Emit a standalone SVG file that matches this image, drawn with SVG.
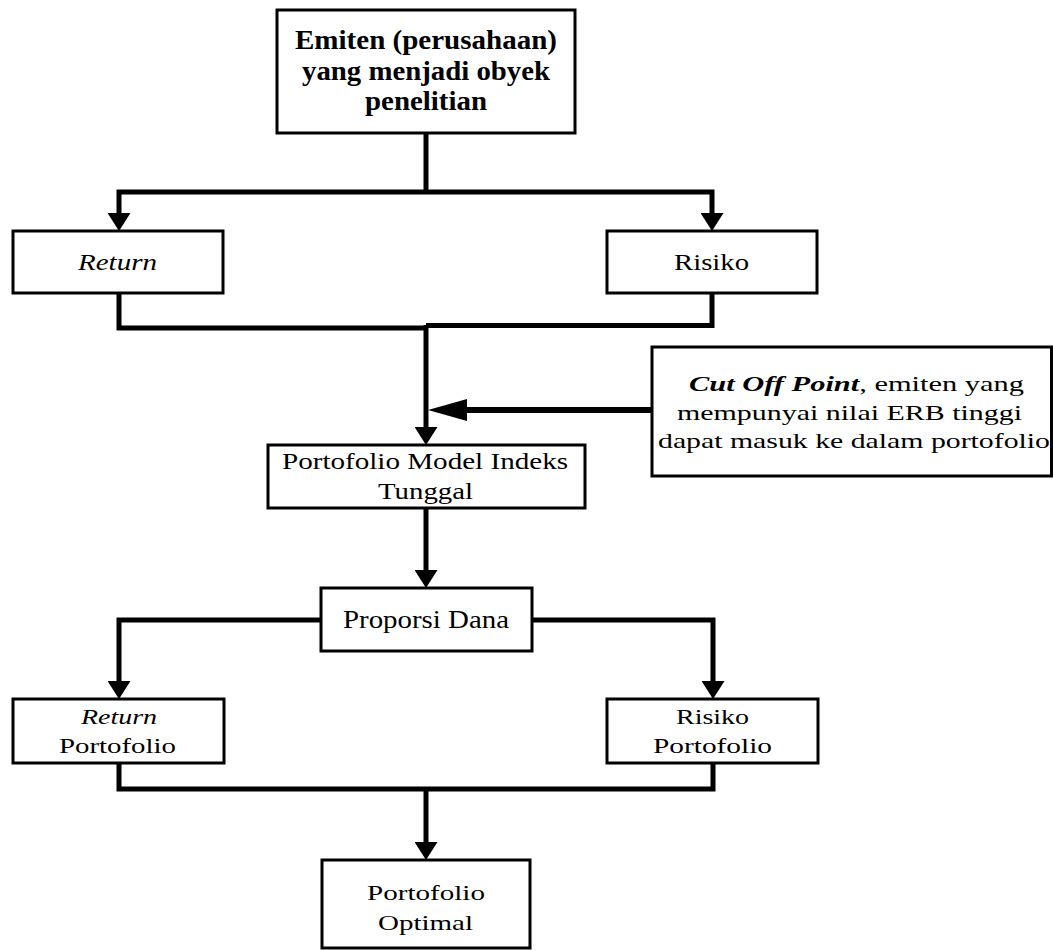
<svg xmlns="http://www.w3.org/2000/svg" width="1053" height="950" viewBox="0 0 1053 950">
<style>
.box{fill:#fff;stroke:#000;stroke-width:3}
text{font-family:'Liberation Serif', 'Times New Roman', Times, serif;fill:#000;font-size:24px}
.b{font-weight:bold;font-size:27px}
.i{font-style:italic}
.s21{font-size:22px}
.s22{font-size:22px}
.s24{font-size:25px}
.c{fill:none;stroke:#000;stroke-width:5;stroke-linejoin:miter;stroke-linecap:butt}
.c6{stroke-width:6}
</style>
<defs>
<marker id="arr" viewBox="0 0 18 23" refX="1" refY="11.5" markerWidth="18" markerHeight="23" markerUnits="userSpaceOnUse" orient="auto">
<path d="M0,0 L18,11.5 L0,23 z" fill="#000"/>
</marker>
<marker id="arrL" viewBox="0 0 39 22" refX="1" refY="11" markerWidth="39" markerHeight="22" markerUnits="userSpaceOnUse" orient="auto">
<path d="M0,0 L39,11 L0,22 z" fill="#000"/>
</marker>
</defs>
<g id="connectors">
<path class="c" d="M426,133 V192"/>
<path class="c" d="M426,192 H119 V214" marker-end="url(#arr)"/>
<path class="c" d="M426,192 H712 V214" marker-end="url(#arr)"/>
<path class="c" d="M119,293 V328 H426"/>
<path class="c" d="M712,290 V325.5 H426"/>
<path class="c" d="M426,325 V428" marker-end="url(#arr)"/>
<path class="c c6" d="M652,410 H466" marker-end="url(#arrL)"/>
<path class="c" d="M426,508 V571" marker-end="url(#arr)"/>
<path class="c" d="M321,620 H119 V682" marker-end="url(#arr)"/>
<path class="c" d="M532,620 H713 V682" marker-end="url(#arr)"/>
<path class="c" d="M119,763 V789 H713 V763"/>
<path class="c" d="M426,789 V843" marker-end="url(#arr)"/>
</g>
<g id="emiten">
<rect class="box" x="277" y="10" width="298" height="123"/>
<text class="b" x="295" y="49" textLength="262" lengthAdjust="spacingAndGlyphs">Emiten (perusahaan)</text>
<text class="b" x="302" y="80" textLength="248" lengthAdjust="spacingAndGlyphs">yang menjadi obyek</text>
<text class="b" x="365" y="110" textLength="122" lengthAdjust="spacingAndGlyphs">penelitian</text>
</g>
<g id="return">
<rect class="box" x="13" y="231" width="210" height="62"/>
<text class="i" x="78" y="270" textLength="79" lengthAdjust="spacingAndGlyphs">Return</text>
</g>
<g id="risiko">
<rect class="box" x="607" y="231" width="210" height="62"/>
<text x="674" y="270" textLength="75" lengthAdjust="spacingAndGlyphs">Risiko</text>
</g>
<g id="cutoff">
<rect class="box" x="652" y="347" width="399.5" height="129"/>
<text class="s22" x="689" y="391" textLength="335" lengthAdjust="spacingAndGlyphs"><tspan font-weight="bold" font-style="italic">Cut Off Point</tspan>, emiten yang</text>
<text class="s22" x="677" y="420" textLength="345" lengthAdjust="spacingAndGlyphs">mempunyai nilai ERB tinggi</text>
<text class="s22" x="658" y="448" textLength="392" lengthAdjust="spacingAndGlyphs">dapat masuk ke dalam portofolio</text>
</g>
<g id="pmit">
<rect class="box" x="268" y="445" width="317" height="63"/>
<text x="282" y="469" textLength="286" lengthAdjust="spacingAndGlyphs">Portofolio Model Indeks</text>
<text x="378" y="499" textLength="95" lengthAdjust="spacingAndGlyphs">Tunggal</text>
</g>
<g id="proporsi">
<rect class="box" x="321" y="588" width="211" height="63"/>
<text class="s24" x="343" y="628" textLength="166" lengthAdjust="spacingAndGlyphs">Proporsi Dana</text>
</g>
<g id="returnport">
<rect class="box" x="13" y="699" width="211" height="64"/>
<text class="s21 i" x="81" y="724" textLength="76" lengthAdjust="spacingAndGlyphs">Return</text>
<text class="s21" x="59" y="753" textLength="117" lengthAdjust="spacingAndGlyphs">Portofolio</text>
</g>
<g id="risikoport">
<rect class="box" x="607" y="699" width="211" height="64"/>
<text class="s21" x="676" y="724" textLength="73" lengthAdjust="spacingAndGlyphs">Risiko</text>
<text class="s21" x="653" y="753" textLength="119" lengthAdjust="spacingAndGlyphs">Portofolio</text>
</g>
<g id="optimal">
<rect class="box" x="322" y="860" width="208" height="88"/>
<text class="s21" x="367" y="900" textLength="118" lengthAdjust="spacingAndGlyphs">Portofolio</text>
<text class="s21" x="378" y="930" textLength="95" lengthAdjust="spacingAndGlyphs">Optimal</text>
</g>
</svg>
